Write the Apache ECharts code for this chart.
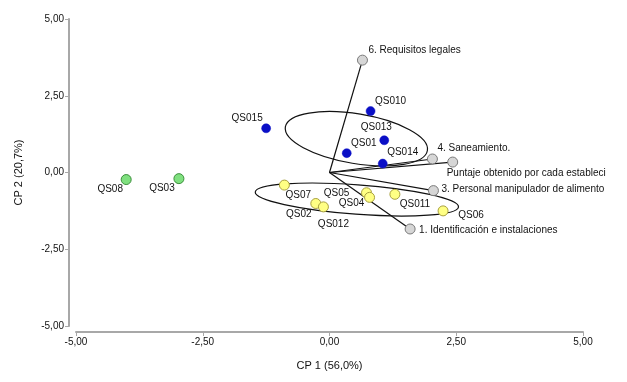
<!DOCTYPE html>
<html><head><meta charset="utf-8">
<script src="https://cdn.jsdelivr.net/npm/echarts@6/dist/echarts.min.js"></script>
<style>html,body{margin:0;padding:0;background:#fff}#c{width:627px;height:382px}</style>
</head><body><div id="c"></div>
<script>
// ---- data ----
const xTicks = [-5, -2.5, 0, 2.5, 5];
const yTicks = [-5, -2.5, 0, 2.5, 5];

const blueNames = ['QS015', 'QS010', 'QS013', 'QS01', 'QS014'];
const blueX = [-1.25, 0.81, 1.08, 0.34, 1.05];
const blueY = [1.44, 2.00, 1.05, 0.63, 0.29];

const yellowNames = ['QS07', 'QS02', 'QS012', 'QS05', 'QS04', 'QS011', 'QS06'];
const yellowX = [-0.89, -0.27, -0.12, 0.73, 0.79, 1.29, 2.24];
const yellowY = [-0.41, -1.01, -1.12, -0.66, -0.81, -0.71, -1.25];

const greenNames = ['QS08', 'QS03'];
const greenX = [-4.01, -2.97];
const greenY = [-0.23, -0.20];

const varNames = ['6. Requisitos legales', '4. Saneamiento.', 'Puntaje obtenido por cada estableci', '3. Personal manipulador de alimento', '1. Identificación e instalaciones'];
const varX = [0.65, 2.03, 2.43, 2.05, 1.59];
const varY = [3.66, 0.44, 0.34, -0.59, -1.84];

// ellipses: centre, semi-axis (x units), semi-axis (y units), tilt in degrees (right end down)
const ellCX = [0.53, 0.54];
const ellCY = [1.10, -0.88];
const ellA = [1.42, 2.01];
const ellB = [0.81, 0.48];
const ellTilt = [9.4, 4.2];

// ---- label placement (styling) ----
const labelOffsets = {
  QS015: [-19, -10], QS010: [20, -10], QS013: [-8, -13], QS01: [17, -10], QS014: [20, -11],
  QS07: [14, 10], QS02: [-17, 11], QS012: [10, 17], QS05: [-30, 0], QS04: [-18, 6], QS011: [20, 10], QS06: [28, 4],
  QS08: [-16, 10], QS03: [-17, 10],
  '6. Requisitos legales': [6, -10], '4. Saneamiento.': [5, -11],
  'Puntaje obtenido por cada estableci': [-6, 11], '3. Personal manipulador de alimento': [8, -1],
  '1. Identificación e instalaciones': [9, 1]
};

const FONT = 'Liberation Sans, Arial, sans-serif';
const TXT = '#111';

function pts(names, xs, ys, align) {
  return names.map((n, i) => ({
    name: n, value: [xs[i], ys[i]],
    label: { show: true, position: 'inside', offset: labelOffsets[n], align: align, verticalAlign: 'middle',
      formatter: '{b}', color: TXT, fontSize: 10, fontFamily: FONT }
  }));
}

const fmt = v => v.toFixed(2).replace('.', ',');
const axisCommon = {
  type: 'value',
  axisLine: { show: true, onZero: false, lineStyle: { color: '#a8a8a8', width: 2 } },
  axisTick: { show: true, length: 4, lineStyle: { color: '#a8a8a8', width: 1 } },
  axisLabel: { formatter: fmt, color: TXT, fontSize: 10, fontFamily: FONT, margin: 5 },
  splitLine: { show: false },
  nameLocation: 'middle',
  nameTextStyle: { color: TXT, fontSize: 11, fontFamily: FONT }
};

const chart = echarts.init(document.getElementById('c'), null, { renderer: 'canvas' });
chart.setOption({
  animation: false,
  backgroundColor: '#fff',
  grid: { left: 76, right: 44, top: 19, bottom: 56 },
  xAxis: Object.assign({}, axisCommon, {
    min: xTicks[0], max: xTicks[xTicks.length - 1], interval: xTicks[1] - xTicks[0],
    offset: 6, name: 'CP 1 (56,0%)', nameGap: 28
  }),
  yAxis: Object.assign({}, axisCommon, {
    min: yTicks[0], max: yTicks[yTicks.length - 1], interval: yTicks[1] - yTicks[0],
    offset: 7, name: 'CP 2 (20,7%)', nameGap: 45
  }),
  series: [
    {
      type: 'custom', silent: true, z: 1, clip: false,
      data: ellCX.map((c, i) => [c, ellCY[i], ellA[i], ellB[i], ellTilt[i]]),
      renderItem: (params, api) => {
        const c = api.coord([api.value(0), api.value(1)]);
        const rx = api.size([api.value(2), 0])[0];
        const ry = api.size([0, api.value(3)])[1];
        return {
          type: 'ellipse', x: c[0], y: c[1], rotation: -api.value(4) * Math.PI / 180,
          shape: { cx: 0, cy: 0, rx: rx, ry: ry },
          style: { fill: 'none', stroke: '#111', lineWidth: 1.2 }
        };
      }
    },
    {
      type: 'custom', silent: true, z: 1, clip: false,
      data: varX.map((x, i) => [x, varY[i]]),
      renderItem: (params, api) => {
        const o = api.coord([0, 0]);
        const p = api.coord([api.value(0), api.value(1)]);
        return { type: 'line', shape: { x1: o[0], y1: o[1], x2: p[0], y2: p[1] },
          style: { stroke: '#111', lineWidth: 1.2 } };
      }
    },
    { type: 'scatter', z: 3, symbolSize: 10, data: pts(greenNames, greenX, greenY, 'center'),
      itemStyle: { color: '#7fe07f', borderColor: '#3c8f3c', borderWidth: 1, opacity: 1 } },
    { type: 'scatter', z: 3, symbolSize: 9, data: pts(blueNames, blueX, blueY, 'center'),
      itemStyle: { color: '#0a0fc6', borderColor: '#0a0fc6', borderWidth: 0.5, opacity: 1 } },
    { type: 'scatter', z: 3, symbolSize: 10, data: pts(yellowNames, yellowX, yellowY, 'center'),
      itemStyle: { color: '#ffff84', borderColor: '#a8a040', borderWidth: 1, opacity: 1 } },
    { type: 'scatter', z: 3, symbolSize: 10, data: pts(varNames, varX, varY, 'left'),
      itemStyle: { color: '#d6d6d6', borderColor: '#7a7a7a', borderWidth: 1, opacity: 1 } }
  ]
});
</script>
</body></html>
